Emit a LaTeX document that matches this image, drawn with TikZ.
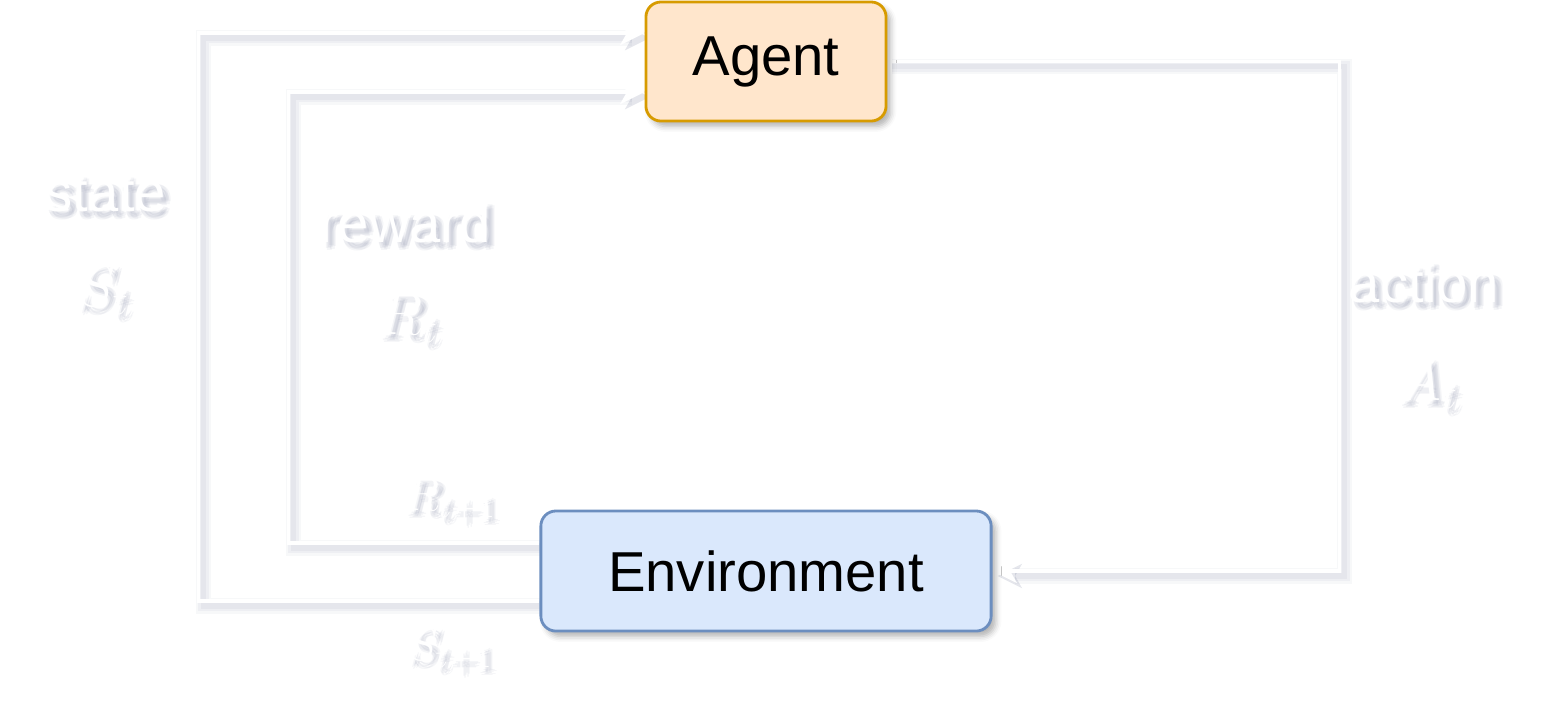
\RequirePackage{fix-cm}
\documentclass[tikz,border=0pt]{standalone}
\usepackage{fontspec}
\setmainfont{Liberation Sans}
\usetikzlibrary{arrows.meta,shadows.blur,backgrounds}
\definecolor{agentfill}{HTML}{FFE6CC}
\definecolor{agentline}{HTML}{D79B00}
\definecolor{envfill}{HTML}{DAE8FC}
\definecolor{envline}{HTML}{6C8EBF}
\definecolor{shade}{HTML}{3C4670}
% white label with a soft grey shadow under it
\newcommand{\castlabel}[3]{%
  \foreach \dx/\dy in {5/5,3/6,6/3,7/7,4/8,8/4}
    \node[tag,text=shade,opacity=0.05] at ([shift={(\dx,\dy)}]#2) {#3};
  \node[tag] (#1) at (#2) {#3};}

\begin{document}
\begin{tikzpicture}[x=0.01cm,y=-0.01cm,
    box/.style={draw,rounded corners=0.15cm,line width=0.8pt,inner sep=0,
      blur shadow={shadow xshift=1.3pt,shadow yshift=-1.5pt,shadow blur radius=1.6pt,shadow opacity=30}},
    tip/.style={-{Stealth[length=7pt,width=7pt,inset=2pt,line width=0pt]}},
    wire/.style={draw=white,line width=0.9pt,tip},
    wireshade/.style={draw=shade,tip},
    tag/.style={text=white,anchor=base,inner sep=0},
  ]
    \providecommand{\boxfontsize}{\fontsize{16}{19}\selectfont}
    \providecommand{\mathbig}{\fontsize{17}{20}\selectfont}
    \providecommand{\mathsmall}{\fontsize{13.5}{16}\selectfont}
    \useasboundingbox (0,0) rectangle (1566,726);
    \node[box,draw=agentline,fill=agentfill,minimum width=2.4cm,minimum height=1.19cm] (agent) at (766,61.5) {\boxfontsize Agent};
    \node[box,draw=envline,fill=envfill,minimum width=4.5cm,minimum height=1.2cm] (env) at (766,571) {\boxfontsize Environment};
    \providecommand{\stateroute}{([shift={(0,30)}]env.west) -- ++(-341,0) |- ([shift={(0,-28.5)}]agent.west)}
    \providecommand{\rewardroute}{([shift={(0,-28)}]env.west) -- ++(-251,0) |- ([shift={(0,30.5)}]agent.west)}
    \providecommand{\actionroute}{(agent.east) -- ++(452,0) |- (env.east)}
    \begin{scope}[on background layer]
    \begin{scope}[transform canvas={shift={(5,5)}}]
    \foreach \w/\op in {4.5pt/0.04,3pt/0.05,1.6pt/0.05}{
      \draw[wireshade,line width=\w,opacity=\op] \stateroute;
      \draw[wireshade,line width=\w,opacity=\op] \rewardroute;
      \draw[wireshade,line width=\w,opacity=\op] \actionroute;
    }
    \end{scope}
    \draw[wire] \stateroute;
    \draw[wire] \rewardroute;
    \draw[wire] \actionroute;
    \end{scope}
    \castlabel{state}{105,211}{\boxfontsize state}
    \castlabel{st}{103,306}{\mathbig $S_t$}
    \castlabel{reward}{405,242}{\boxfontsize reward}
    \castlabel{rt}{408,334}{\mathbig $R_t$}
    \castlabel{action}{1424,302}{\boxfontsize action}
    \castlabel{at}{1428,400}{\mathbig $A_t$}
    \castlabel{rnext}{450,510}{\mathsmall $R_{t+1}$}
    \castlabel{snext}{450,660}{\mathsmall $S_{t+1}$}
\end{tikzpicture}
\end{document}
